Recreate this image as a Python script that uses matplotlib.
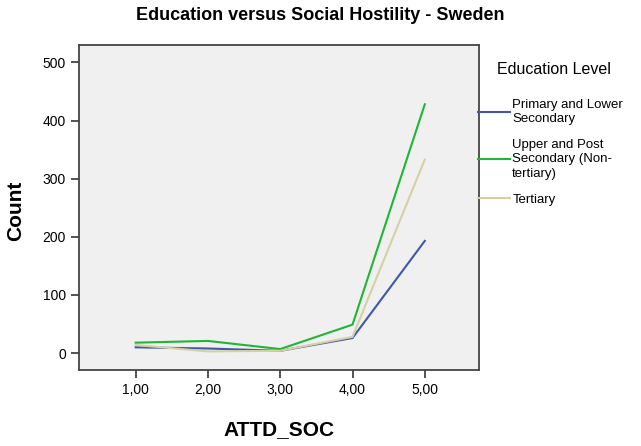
import matplotlib.pyplot as plt

plt.rcParams['font.family'] = ['Liberation Sans', 'DejaVu Sans']

x = [1, 2, 3, 4, 5]
xlabels = ['1,00', '2,00', '3,00', '4,00', '5,00']
primary = [10, 8, 4, 26, 193]
upper = [18, 21, 7, 49, 428]
tertiary = [14, 3, 4, 28, 333]
series_names = ['Primary and Lower\nSecondary', 'Upper and Post\nSecondary (Non-\ntertiary)', 'Tertiary']
colors = ['#3E58AC', '#21B534', '#D6D0A2']

fig = plt.figure(figsize=(6.41, 4.46), dpi=100)
ax = fig.add_axes([79/641, 1-370/446, 400/641, 325/446])
ax.set_facecolor('#F0F0F0')

lines = []
for vals, c, n in zip([primary, upper, tertiary], colors, series_names):
    l, = ax.plot(x, vals, color=c, lw=1.5, label=n)
    lines.append(l)

ax.set_xlim(0.216, 5.75)
ax.set_ylim(-29, 530)
ax.set_xticks(x)
ax.set_xticklabels(xlabels)
ax.set_yticks([0, 100, 200, 300, 400, 500])
ax.tick_params(labelsize=10, length=6, width=1.3, color='#444444')
for s in ax.spines.values():
    s.set_color('#444444')
    s.set_linewidth(1.3)

ax.set_xlabel('ATTD_SOC', fontsize=15, fontweight='bold')
ax.set_ylabel('Count', fontsize=15, fontweight='bold')
ax.xaxis.set_label_coords(0.5, -0.155)
ax.yaxis.set_label_coords(-0.135, 0.49)
fig.suptitle('Education versus Social Hostility - Sweden', fontsize=13, fontweight='bold', y=0.985)

fig.text(497/641, 1-70/446, 'Education Level', fontsize=11.5, va='center', ha='left')
leg = fig.legend(handles=lines, loc='upper left', bbox_to_anchor=(478/641, 1-99/446),
                 frameon=False, fontsize=9.5,
                 handlelength=2.4, handletextpad=0.2, labelspacing=1.05, borderaxespad=0,
                 borderpad=0)
for t in leg.get_texts():
    t.set_linespacing(1.25)

fig.savefig('out.png', dpi=100)
